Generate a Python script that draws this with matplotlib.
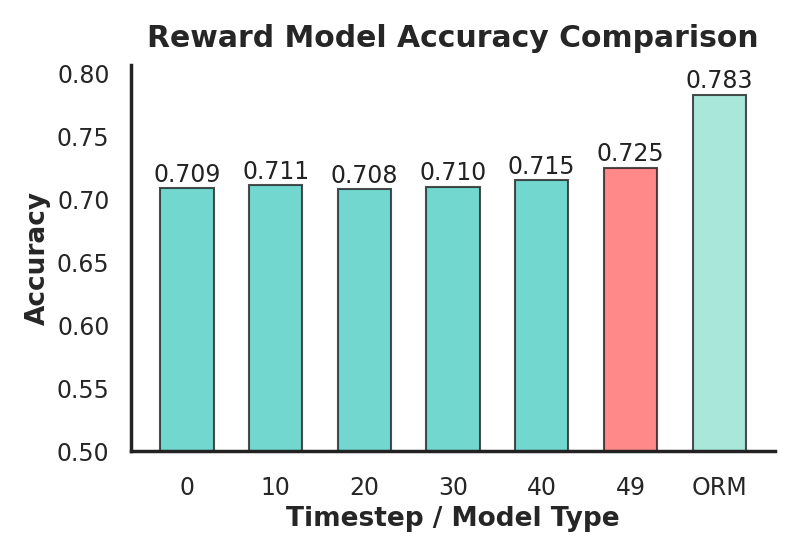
import numpy as np
import matplotlib.pyplot as plt
import seaborn as sns

# data
labels = ["0", "10", "20", "30", "40", "49", "ORM"]
accuracy = [0.709, 0.711, 0.708, 0.710, 0.715, 0.725, 0.783]
colors = ["#4ECDC4"] * 5 + ["#FF6B6B", "#95E1D3"]

sns.set_style("white")
plt.rcParams['font.family'] = ['DejaVu Sans']

fig, ax = plt.subplots(figsize=(7.99, 5.55), dpi=100)
x = np.arange(len(labels))
bars = ax.bar(x, accuracy, width=0.6, color=colors, alpha=0.8,
              edgecolor="#222222", linewidth=1.5)

# value labels above bars
for b, v in zip(bars, accuracy):
    ax.text(b.get_x() + b.get_width() / 2, v + 0.001, f"{v:.3f}",
            ha="center", va="bottom", fontsize=17, color="#222222")

ax.set_xticks(x)
ax.set_xticklabels(labels, fontsize=17)
ax.tick_params(axis="y", labelsize=17, pad=12)
ax.tick_params(axis="x", pad=14)
ax.set_ylim(0.5, max(accuracy) * 1.03)
ax.set_xlabel("Timestep / Model Type", fontsize=19, fontweight="bold", labelpad=5)
ax.set_ylabel("Accuracy", fontsize=19, fontweight="bold", labelpad=4)
ax.set_title("Reward Model Accuracy Comparison", fontsize=21.5, fontweight="bold", pad=13)

sns.despine()
for s in ["left", "bottom"]:
    ax.spines[s].set_linewidth(2.5)
    ax.spines[s].set_color("#222222")

plt.subplots_adjust(left=0.164, right=0.97, top=0.883, bottom=0.187)
plt.savefig("out.png", dpi=100)
